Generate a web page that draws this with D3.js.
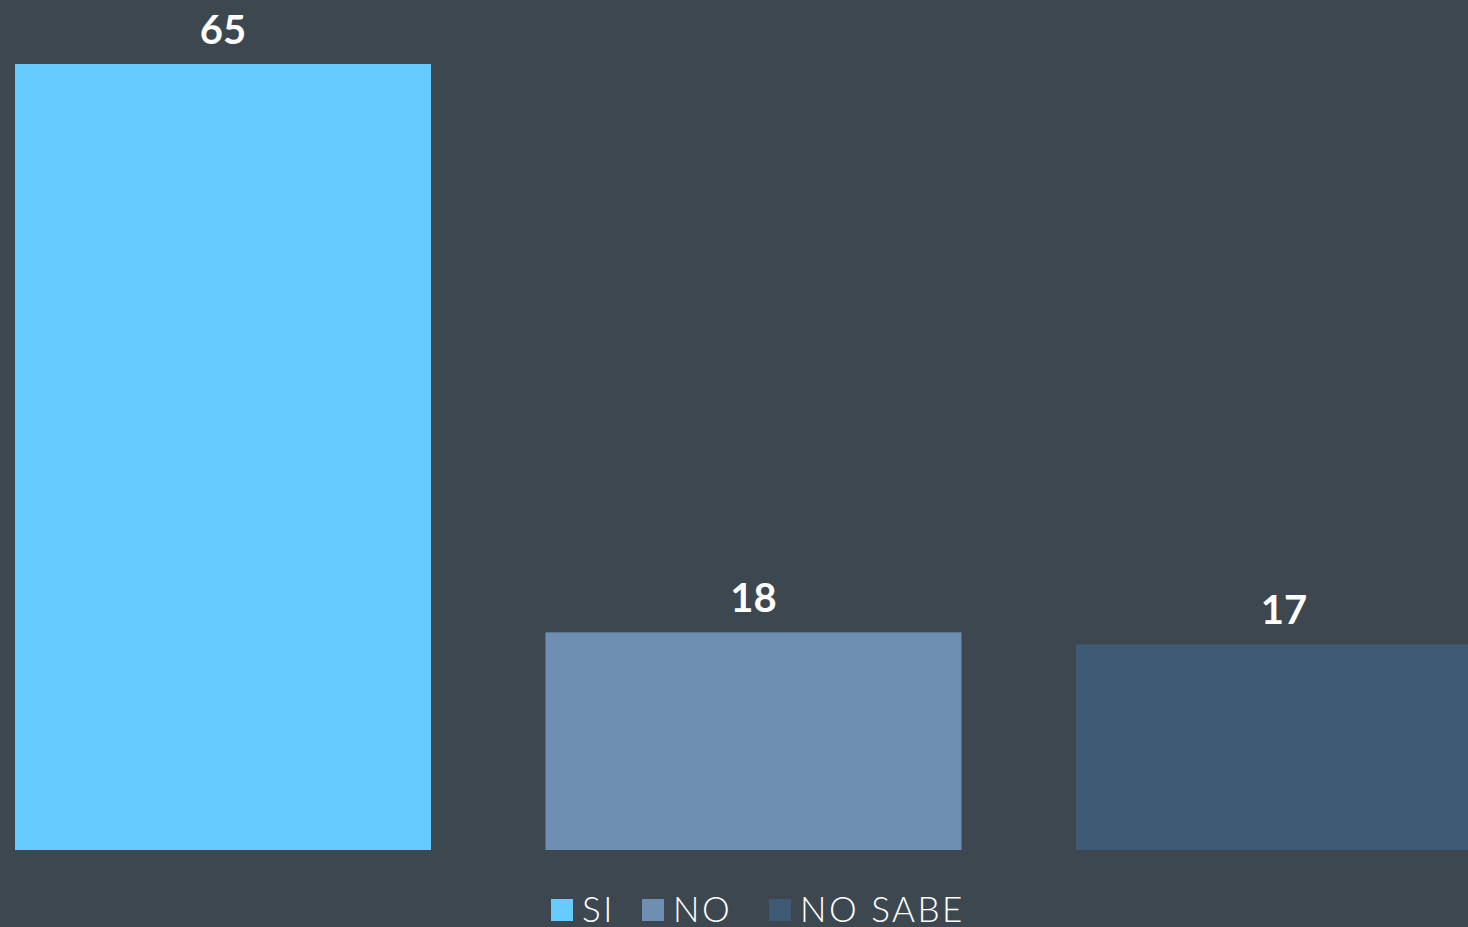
<!DOCTYPE html>
<html>
<head>
<meta charset="utf-8">
<script src="https://cdn.jsdelivr.net/npm/d3@7"></script>
<style>
  html, body { margin: 0; padding: 0; background: #3d4750; overflow: hidden; }
  svg { display: block; }
</style>
</head>
<body>
<svg id="chart" width="1468" height="927"></svg>
<script>
// Survey answers and their shares
const categories = ["SI", "NO", "NO SABE"];
const values = [65, 18, 17];
const colors = ["#66ccff", "#6f8fb2", "#3e5a75"];

const W = 1468, H = 927;
const svg = d3.select("#chart");

svg.append("rect").attr("width", W).attr("height", H).attr("fill", "#3d4750");

// Plot area: the last band runs past the right edge and is clipped
const plotLeft = 15, plotRight = 1492, plotBottom = 850, plotTop = 64;
const x = d3.scaleBand()
  .domain(categories)
  .range([plotLeft, plotRight])
  .paddingInner(114.5 / 530.5)
  .paddingOuter(0);

const y = d3.scaleLinear()
  .domain([0, 65])
  .range([plotBottom, plotTop]);

const rows = categories.map((c, i) => ({ cat: c, val: values[i], color: colors[i] }));

svg.append("g")
  .selectAll("rect")
  .data(rows)
  .join("rect")
  .attr("x", d => x(d.cat))
  .attr("y", d => y(d.val))
  .attr("width", x.bandwidth())
  .attr("height", d => y(0) - y(d.val))
  .attr("fill", d => d.color);

// Value labels above each bar
svg.append("g")
  .selectAll("text")
  .data(rows)
  .join("text")
  .attr("x", d => x(d.cat) + x.bandwidth() / 2)
  .attr("y", d => y(d.val) - 20)
  .attr("text-anchor", "middle")
  .attr("fill", "#ffffff")
  .attr("font-family", "Lato, 'Open Sans', sans-serif")
  .attr("font-weight", 700)
  .attr("font-size", 40)
  .text(d => d.val);

// Legend along the bottom
const legendX = [551, 642, 769];
const legend = svg.append("g");
rows.forEach((d, i) => {
  legend.append("rect")
    .attr("x", legendX[i]).attr("y", 899)
    .attr("width", 22).attr("height", 22)
    .attr("fill", d.color);
  legend.append("text")
    .attr("x", legendX[i] + 31).attr("y", 922)
    .attr("fill", "#ffffff")
    .attr("font-family", "Lato, 'Open Sans', sans-serif")
    .attr("font-weight", 300)
    .attr("font-size", 35)
    .attr("letter-spacing", 2.5)
    .text(d.cat);
});
</script>
</body>
</html>
